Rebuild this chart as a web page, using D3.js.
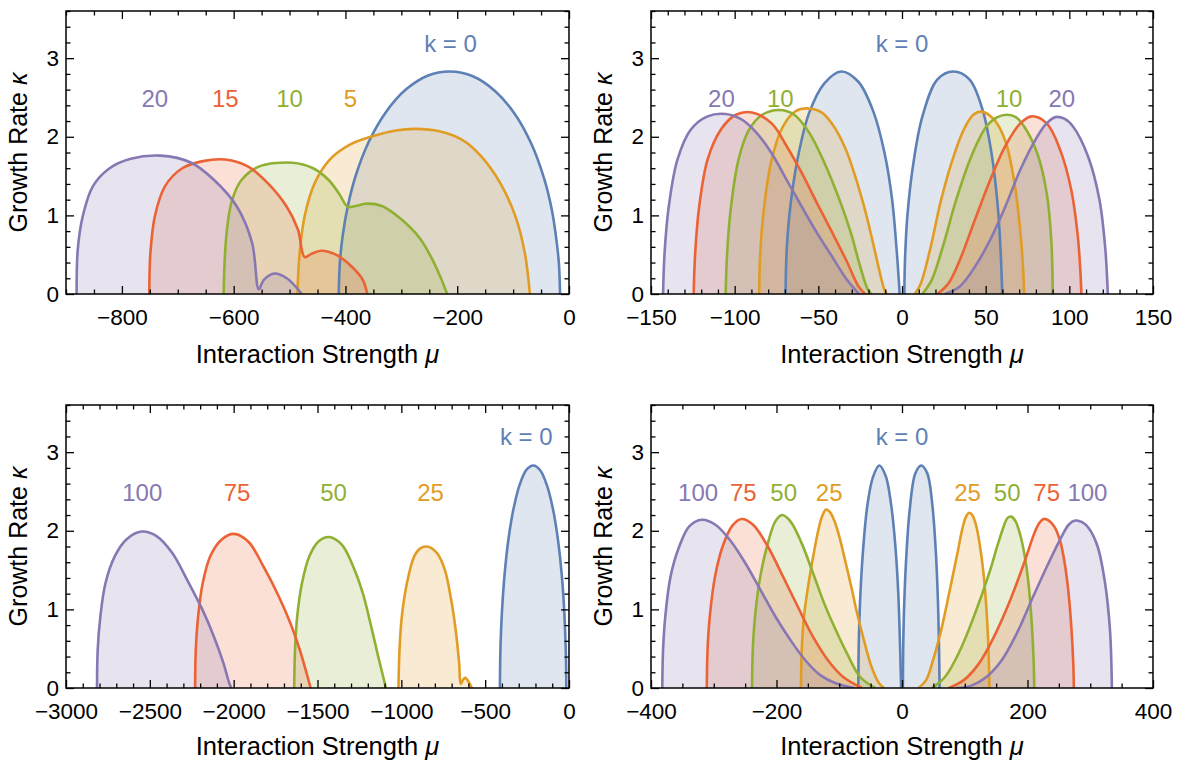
<!DOCTYPE html>
<html>
<head>
<meta charset="utf-8">
<script src="https://cdn.jsdelivr.net/npm/d3@7"></script>
<style>
  body { margin: 0; background: #fff; }
  svg { display: block; }
  text { font-family: "Liberation Sans", Arial, sans-serif; }
</style>
</head>
<body>
<svg id="chart" width="1183" height="760"></svg>
<script>
// ---------- data: growth rate kappa versus interaction strength mu ----------
// k = 0 branch for negative mu (shared by the two left panels)
const k0Neg = [[-412,0],[-410,0.4],[-405,0.74],[-396,1.11],[-381,1.52],[-358,1.94],[-328,2.31],[-292,2.6],[-252,2.78],[-213,2.83],[-172,2.77],[-132,2.58],[-97,2.29],[-68,1.92],[-45,1.48],[-31,1.08],[-22,0.66],[-18,0.38],[-16,0]];
// k = 0 twin lobes around mu = 0 (shared by the two right panels)
const k0LobeL = [[-69.6,0],[-68.9,0.56],[-66.7,1.12],[-62.2,1.74],[-55.4,2.31],[-46.4,2.68],[-36.3,2.83],[-26.1,2.7],[-17.1,2.32],[-10.4,1.79],[-5.9,1.2],[-3.2,0.56],[-1.8,0.14],[-1.4,0]];
const k0LobeR = [[1.4,0],[1.8,0.44],[3.2,0.99],[6.5,1.62],[12.2,2.26],[21.2,2.73],[30.6,2.83],[40.3,2.73],[48.2,2.34],[53.8,1.75],[57.2,1.12],[59.0,0.52],[59.9,0]];

// panel A: k = 5, 10, 15, 20, negative mu
const aK5 = [[-486,0],[-482,0.52],[-473,0.99],[-455,1.41],[-428,1.71],[-392,1.9],[-350,2.01],[-310,2.08],[-275,2.1],[-232,2.07],[-191,1.96],[-157,1.75],[-123,1.41],[-96,0.99],[-79,0.52],[-70,0]];
const aK10 = [[-618,0],[-616,0.44],[-612,0.82],[-603,1.19],[-586,1.45],[-555,1.62],[-495,1.67],[-458,1.6],[-430,1.45],[-410,1.26],[-396,1.11],[-382,1.12],[-362,1.15],[-335,1.12],[-300,0.95],[-266,0.7],[-239,0.36],[-218,0]];
const aK15 = [[-751,0],[-749,0.52],[-741,0.99],[-723,1.37],[-692,1.6],[-655,1.69],[-615,1.71],[-574,1.62],[-539,1.41],[-505,1.11],[-485,0.82],[-473,0.47],[-461,0.51],[-444,0.55],[-417,0.5],[-389,0.35],[-369,0.18],[-361,0]];
const aK20 = [[-881,0],[-879,0.56],[-870,0.99],[-852,1.37],[-822,1.6],[-784,1.72],[-731,1.76],[-676,1.67],[-635,1.45],[-594,1.11],[-567,0.65],[-555,0.06],[-546,0.18],[-527,0.26],[-505,0.2],[-478,0]];

// panel B: k = 5, 10, 15, 20, both signs of mu
const bK5L = [[-85.4,0],[-84.7,0.52],[-82.4,1.11],[-77.9,1.71],[-71.2,2.13],[-63.3,2.33],[-55.4,2.36],[-48,2.31],[-41,2.14],[-34,1.86],[-28,1.5],[-22,1.06],[-17,0.62],[-13,0.25],[-10.5,0.05],[-9.2,0]];
const bK5R = [[7.7,0],[11.0,0.12],[16.7,0.56],[23.4,1.2],[30.2,1.71],[36.9,2.09],[42.6,2.28],[47.5,2.32],[54.9,2.22],[61.7,1.95],[67.3,1.4],[70.7,0.8],[72.3,0.35],[73.0,0]];
const bK10L = [[-105.4,0],[-104.5,0.52],[-102.2,1.11],[-97.7,1.71],[-91.4,2.09],[-83.5,2.28],[-73.4,2.34],[-64.4,2.28],[-55.4,2.05],[-46.4,1.67],[-37.4,1.2],[-30.6,0.78],[-25.0,0.35],[-20.5,0.06],[-18.2,0]];
const bK10R = [[12.2,0],[17.8,0.18],[24.5,0.61],[32.4,1.2],[41.4,1.75],[50.4,2.13],[57,2.25],[62.8,2.28],[68,2.25],[73.0,2.13],[80.8,1.79],[86.5,1.28],[89.2,0.69],[90.1,0]];
const bK15L = [[-124.5,0],[-123.6,0.52],[-121.2,1.11],[-116.2,1.71],[-108.3,2.09],[-99.3,2.28],[-89.6,2.31],[-77.9,2.17],[-68.9,1.88],[-59.9,1.54],[-50.9,1.16],[-41.9,0.79],[-32.9,0.41],[-26.1,0.1],[-22.1,0]];
const bK15R = [[21.2,0],[27.9,0.14],[34.7,0.44],[43.7,0.95],[52.7,1.45],[61.7,1.88],[70.7,2.17],[77.5,2.26],[86.5,2.17],[94.4,1.84],[101.1,1.33],[105.0,0.75],[106.7,0.25],[107.2,0]];
const bK20L = [[-142.8,0],[-141.9,0.52],[-139.4,1.11],[-134.2,1.71],[-126.3,2.09],[-116.2,2.26],[-105.4,2.29],[-95.9,2.22],[-86.9,2.05],[-77.9,1.79],[-68.9,1.45],[-59.9,1.11],[-50.9,0.78],[-41.9,0.48],[-32.9,0.18],[-25.7,0]];
const bK20R = [[25.7,0],[34.7,0.1],[43.7,0.35],[52.7,0.69],[61.7,1.11],[70.7,1.58],[79.7,1.96],[86,2.16],[91.7,2.25],[97,2.23],[102.2,2.13],[111.2,1.75],[118.0,1.2],[121.4,0.6],[123.0,0]];

// panel C: k = 25, 50, 75, 100, negative mu
const cK25 = [[-1017,0],[-1011,0.48],[-997,0.91],[-967,1.33],[-922,1.68],[-885,1.78],[-853,1.8],[-820,1.78],[-785,1.71],[-740,1.5],[-706,1.16],[-676,0.74],[-655,0.31],[-646,0.05],[-633,0.1],[-619,0.13],[-599,0.08],[-580,0]];
const cK50 = [[-1639,0],[-1634,0.48],[-1621,0.91],[-1593,1.33],[-1548,1.68],[-1491,1.87],[-1429,1.92],[-1354,1.82],[-1286,1.54],[-1229,1.2],[-1184,0.82],[-1138,0.4],[-1108,0.14],[-1092,0]];
const cK75 = [[-2230,0],[-2226,0.48],[-2212,0.91],[-2185,1.33],[-2139,1.68],[-2071,1.89],[-1998,1.96],[-1912,1.86],[-1821,1.54],[-1730,1.16],[-1661,0.82],[-1605,0.48],[-1564,0.18],[-1541,0]];
const cK100 = [[-2815,0],[-2811,0.48],[-2795,0.91],[-2765,1.33],[-2708,1.68],[-2640,1.89],[-2549,1.99],[-2458,1.93],[-2367,1.72],[-2276,1.37],[-2185,0.99],[-2117,0.65],[-2060,0.31],[-2026,0.06],[-2014,0]];

// panel D: k = 25, 50, 75, 100, both signs of mu
const dK25L = [[-161.0,0],[-159.8,0.48],[-156.2,0.91],[-148.9,1.33],[-140,1.74],[-133,2.02],[-127,2.19],[-121,2.27],[-115,2.24],[-108,2.13],[-100,1.93],[-90,1.6],[-80,1.26],[-72.7,0.99],[-60.7,0.61],[-48.6,0.27],[-36.6,0.06],[-28.8,0]];
const dK25R = [[26.4,0],[38.4,0.1],[50.4,0.38],[62.5,0.74],[76,1.24],[88,1.7],[96,2.02],[102,2.18],[107,2.23],[112,2.2],[118,2.07],[124,1.82],[130,1.45],[135,0.95],[138,0.45],[139.3,0]];
const dK50L = [[-239.0,0],[-237.8,0.48],[-234.2,0.91],[-225.8,1.42],[-213.8,1.84],[-201.8,2.12],[-191.0,2.2],[-177.8,2.12],[-159.8,1.84],[-141.7,1.46],[-123.7,1.07],[-105.7,0.74],[-87.7,0.44],[-66.7,0.14],[-42.6,0]];
const dK50R = [[47.4,0],[68.5,0.14],[92.5,0.48],[116.5,0.95],[140.5,1.5],[152,1.81],[161,2.03],[168,2.16],[174,2.18],[181,2.12],[189,1.93],[196,1.66],[202,1.3],[206.5,0.85],[209.5,0.4],[210.8,0]];
const dK75L = [[-311.1,0],[-309.9,0.48],[-306.3,0.91],[-297.9,1.42],[-285.9,1.8],[-270.9,2.06],[-255.9,2.15],[-237.8,2.08],[-213.8,1.8],[-189.8,1.42],[-165.8,1.03],[-141.7,0.65],[-117.7,0.35],[-93.7,0.14],[-63.7,0]];
const dK75R = [[74.5,0],[98.5,0.1],[122.5,0.31],[146.5,0.65],[170.6,1.08],[194.6,1.59],[210,1.95],[218,2.09],[226,2.15],[234,2.13],[243,2.05],[252,1.87],[259,1.6],[265,1.24],[270,0.76],[273,0.3],[273.9,0]];
const dK100L = [[-382.0,0],[-380.8,0.48],[-377.2,0.91],[-368.8,1.42],[-355.0,1.8],[-338.7,2.06],[-318.9,2.14],[-297.9,2.08],[-273.9,1.88],[-249.8,1.59],[-225.8,1.25],[-201.8,0.91],[-177.8,0.61],[-153.8,0.35],[-129.7,0.16],[-105.7,0.06],[-75.7,0]];
const dK100R = [[86.5,0],[110.5,0.03],[134.5,0.14],[158.6,0.35],[182.6,0.69],[206.6,1.12],[230.6,1.54],[254.6,1.93],[266,2.08],[276,2.13],[287,2.11],[298,2.03],[311.7,1.8],[323.7,1.33],[331.5,0.73],[334.5,0]];

// axis ticks
const ticksA = [-800, -600, -400, -200, 0];
const ticksB = [-150, -100, -50, 0, 50, 100, 150];
const ticksC = [-3000, -2500, -2000, -1500, -1000, -500, 0];
const ticksD = [-400, -200, 0, 200, 400];
const ticksKappa = [0, 1, 2, 3];

// curve labels: text, mu, kappa, colour index
const labelsA = [["k = 0",-212,3.19,0],["20",-741,2.49,4],["15",-615,2.49,3],["10",-500,2.49,2],["5",-391,2.49,1]];
const labelsB = [["k = 0",0,3.19,0],["20",-107.9,2.49,4],["10",-72.7,2.49,2],["10",64,2.49,2],["20",95.5,2.49,4]];
const labelsC = [["k = 0",-255,3.2,0],["100",-2545,2.49,4],["75",-1980,2.49,3],["50",-1404,2.49,2],["25",-826,2.49,1]];
const labelsD = [["k = 0",0,3.2,0],["100",-325,2.49,4],["75",-253,2.49,3],["50",-188.6,2.49,2],["25",-116,2.49,1],["25",104.5,2.49,1],["50",167.6,2.49,2],["75",230.6,2.49,3],["100",295.5,2.49,4]];

// ---------- styling ----------
const palette = ["#5E81B5", "#E19C24", "#8FB032", "#EB6235", "#8778B3"];
const kappaMax = 3.6;

const panels = [
  { box: [66, 569, 11, 294], domain: [-900, 0], major: ticksA, minorStep: 50,
    series: [[k0Neg,0],[aK5,1],[aK10,2],[aK15,3],[aK20,4]], labels: labelsA },
  { box: [651, 1153, 11, 294], domain: [-150, 150], major: ticksB, minorStep: 10,
    series: [[k0LobeL,0],[k0LobeR,0],[bK5L,1],[bK5R,1],[bK10L,2],[bK10R,2],[bK15L,3],[bK15R,3],[bK20L,4],[bK20R,4]], labels: labelsB },
  { box: [66, 569, 405, 688], domain: [-3000, 0], major: ticksC, minorStep: 100,
    series: [[k0Neg,0],[cK25,1],[cK50,2],[cK75,3],[cK100,4]], labels: labelsC },
  { box: [651, 1153, 405, 688], domain: [-400, 400], major: ticksD, minorStep: 50,
    series: [[k0LobeL,0],[k0LobeR,0],[dK25L,1],[dK25R,1],[dK50L,2],[dK50R,2],[dK75L,3],[dK75R,3],[dK100L,4],[dK100R,4]], labels: labelsD }
];

const svg = d3.select("#chart");
const fmt = d3.format("d");
const fontStack = '"Liberation Sans", Arial, sans-serif';

panels.forEach((p, i) => {
  const [left, right, top, bottom] = p.box;
  const x = d3.scaleLinear().domain(p.domain).range([left, right]);
  const y = d3.scaleLinear().domain([0, kappaMax]).range([bottom, top]);
  const g = svg.append("g");

  const clipId = "clip" + i;
  g.append("clipPath").attr("id", clipId)
    .append("rect").attr("x", left).attr("y", top).attr("width", right - left).attr("height", bottom - top);

  const curve = d3.curveCatmullRom.alpha(0.5);
  const area = d3.area().x(d => x(d[0])).y0(y(0)).y1(d => y(d[1])).curve(curve);
  const line = d3.line().x(d => x(d[0])).y(d => y(d[1])).curve(curve);

  const plot = g.append("g").attr("clip-path", `url(#${clipId})`);
  plot.selectAll("path.fill").data(p.series).join("path")
    .attr("class", "fill")
    .attr("d", d => area(d[0]))
    .attr("fill", d => palette[d[1]])
    .attr("fill-opacity", 0.2);
  plot.selectAll("path.curve").data(p.series).join("path")
    .attr("class", "curve")
    .attr("d", d => line(d[0]))
    .attr("fill", "none")
    .attr("stroke", d => palette[d[1]])
    .attr("stroke-width", 2.6)
    .attr("stroke-linejoin", "round");

  // frame ticks, pointing inward on all four sides
  const minor = d3.range(p.domain[0], p.domain[1] + 1e-9, p.minorStep).filter(v => !p.major.includes(v));
  const minorK = d3.range(0, kappaMax + 1e-9, 0.2).filter(v => Math.abs(v - Math.round(v)) > 1e-6);

  const axes = [
    [d3.axisBottom(x).tickValues(p.major).tickSize(-8).tickPadding(15).tickFormat(fmt), `translate(0,${bottom})`],
    [d3.axisBottom(x).tickValues(minor).tickSize(-4.5).tickFormat(""), `translate(0,${bottom})`],
    [d3.axisTop(x).tickValues(p.major).tickSize(-8).tickFormat(""), `translate(0,${top})`],
    [d3.axisTop(x).tickValues(minor).tickSize(-4.5).tickFormat(""), `translate(0,${top})`],
    [d3.axisLeft(y).tickValues(ticksKappa).tickSize(-8).tickPadding(7).tickFormat(fmt), `translate(${left},0)`],
    [d3.axisLeft(y).tickValues(minorK).tickSize(-4.5).tickFormat(""), `translate(${left},0)`],
    [d3.axisRight(y).tickValues(ticksKappa).tickSize(-8).tickFormat(""), `translate(${right},0)`],
    [d3.axisRight(y).tickValues(minorK).tickSize(-4.5).tickFormat(""), `translate(${right},0)`]
  ];
  axes.forEach(([ax, tr]) => {
    const a = g.append("g").attr("transform", tr).call(ax);
    a.select(".domain").remove();
    a.selectAll("line").attr("stroke", "#000").attr("stroke-width", 1.3);
    a.selectAll("text").attr("fill", "#000").style("font-size", "22.5px").style("font-family", fontStack);
  });

  g.append("rect")
    .attr("x", left).attr("y", top).attr("width", right - left).attr("height", bottom - top)
    .attr("fill", "none").attr("stroke", "#000").attr("stroke-width", 1.5);

  // axis titles
  const xt = g.append("text")
    .attr("x", (left + right) / 2).attr("y", Math.min(bottom + 69, 755))
    .attr("text-anchor", "middle").style("font-size", "25.5px").attr("fill", "#000");
  xt.append("tspan").text("Interaction Strength ");
  xt.append("tspan").style("font-style", "italic").text("μ");

  const yt = g.append("text")
    .attr("transform", `translate(${left - 39},${(top + bottom) / 2}) rotate(-90)`)
    .attr("text-anchor", "middle").style("font-size", "25px").attr("fill", "#000");
  yt.append("tspan").text("Growth Rate ");
  yt.append("tspan").style("font-style", "italic").text("κ");

  // curve labels
  g.selectAll("text.klabel").data(p.labels).join("text")
    .attr("class", "klabel")
    .attr("x", d => x(d[1])).attr("y", d => y(d[2]))
    .attr("dy", "0.36em")
    .attr("text-anchor", "middle")
    .style("font-size", "24px")
    .attr("fill", d => palette[d[3]])
    .text(d => d[0]);
});
</script>
</body>
</html>
